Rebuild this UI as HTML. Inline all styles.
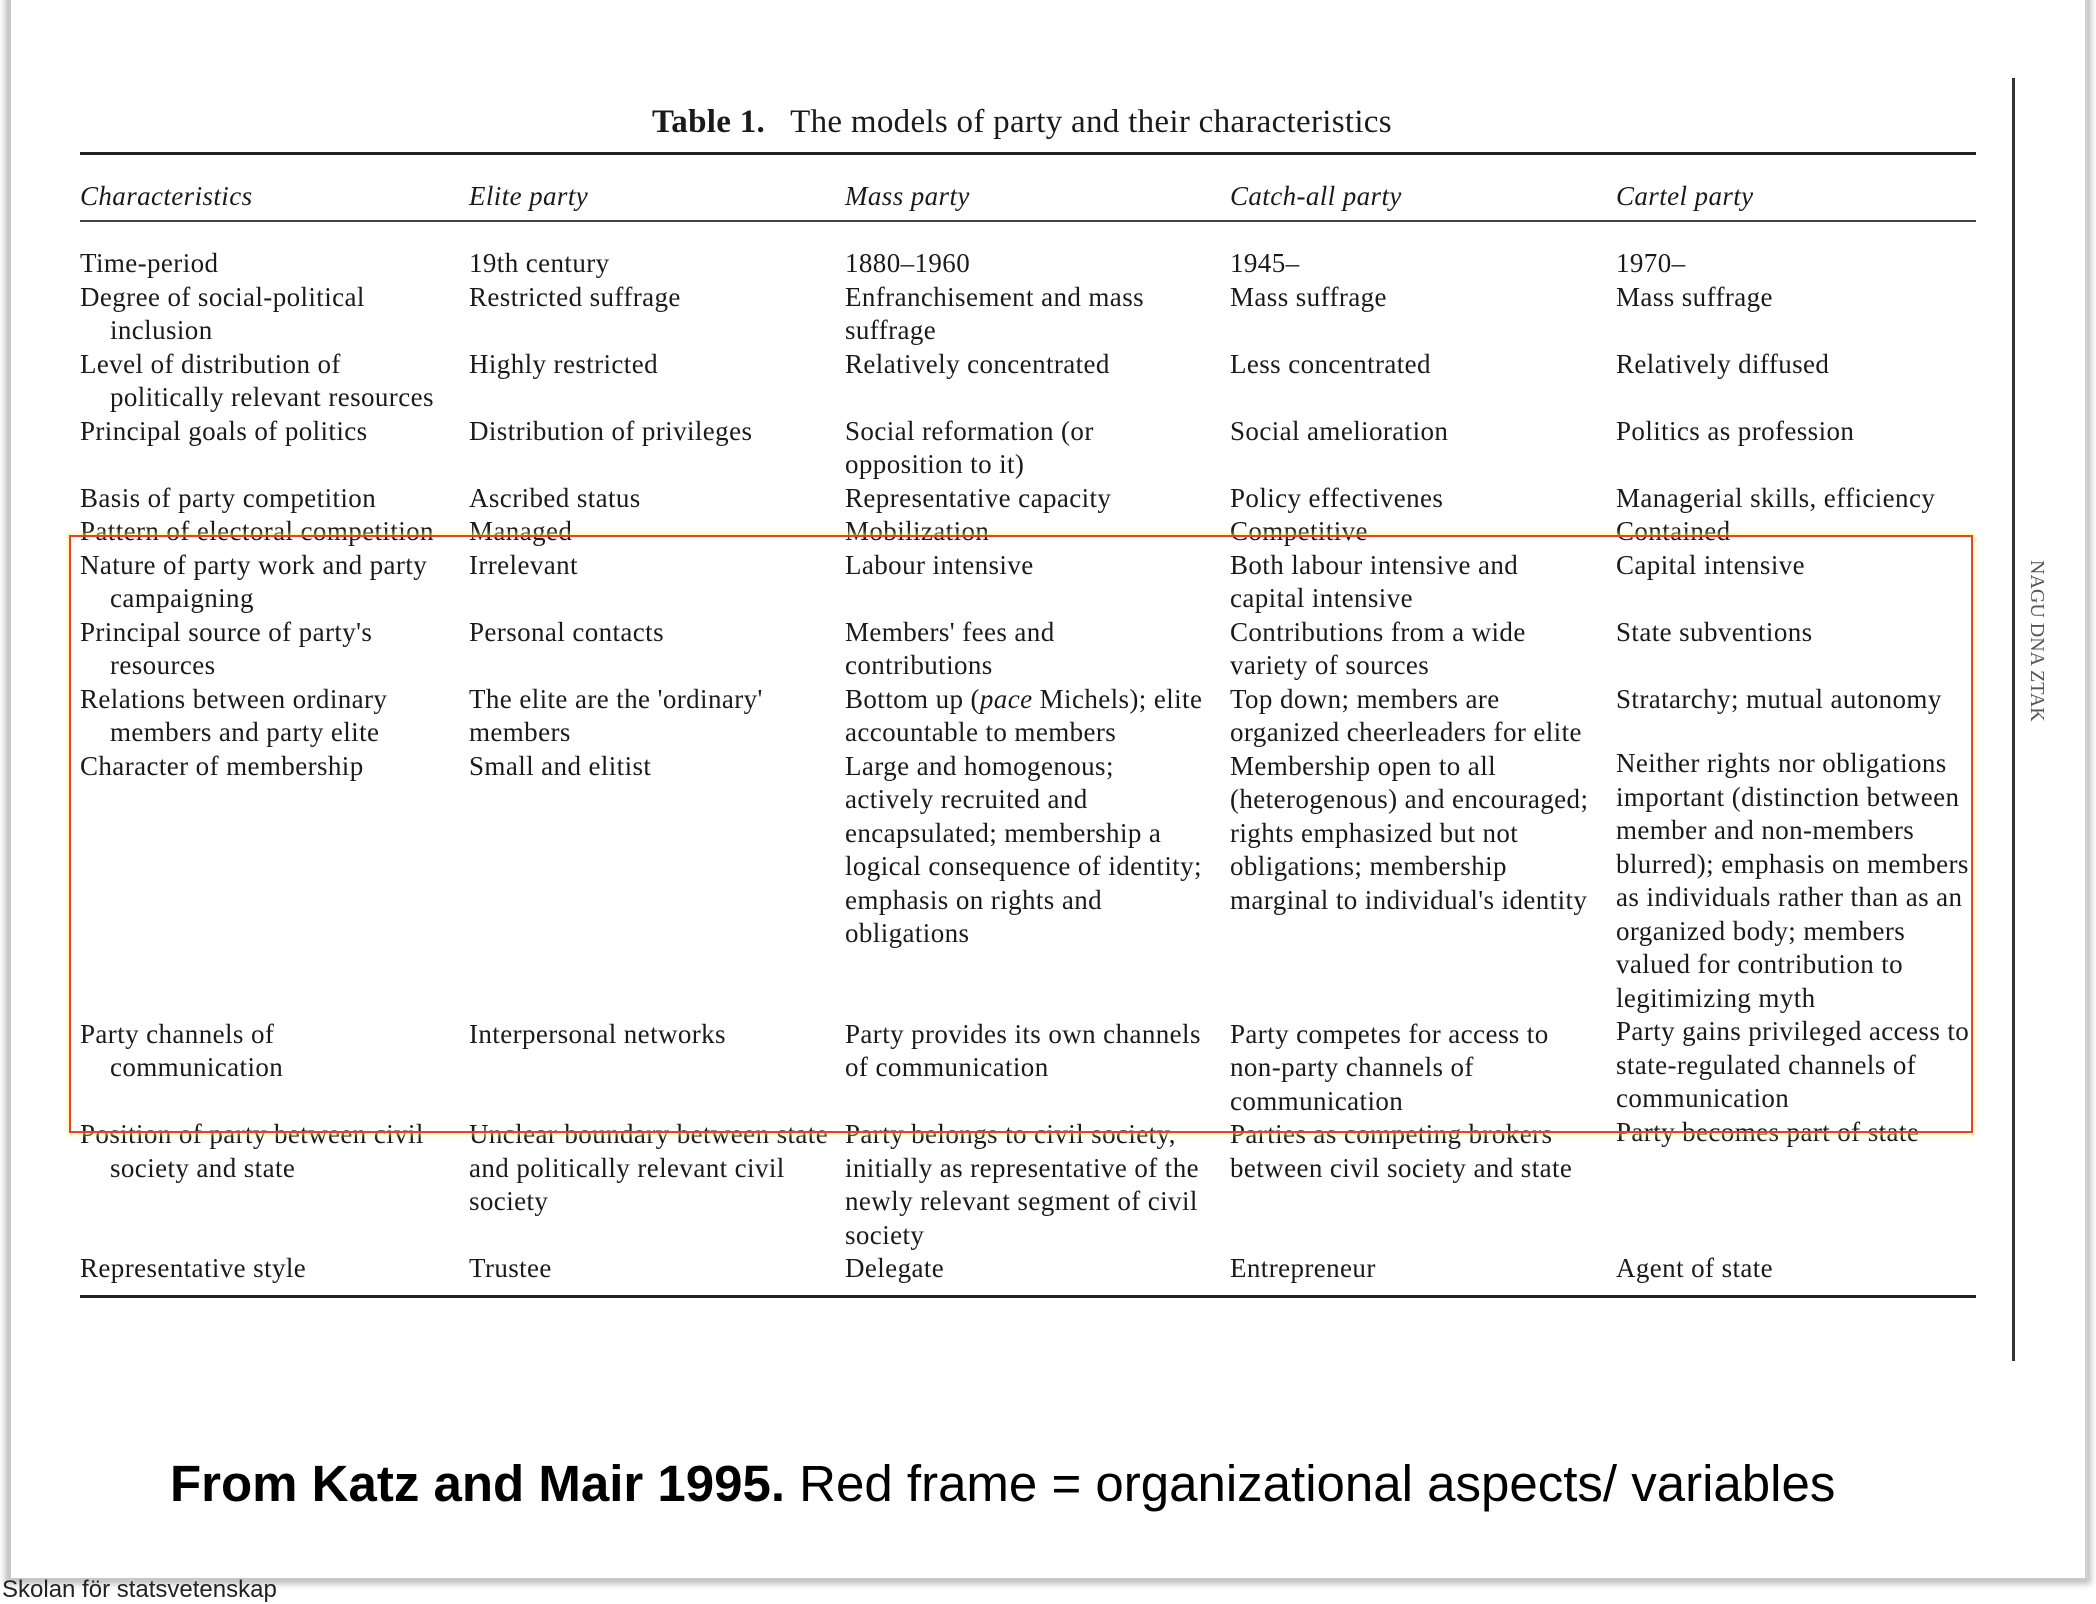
<!DOCTYPE html>
<html><head><meta charset="utf-8"><style>
html,body{margin:0;padding:0;}
body{width:2096px;height:1590px;position:relative;overflow:hidden;background:#fff;font-family:"Liberation Serif",serif;color:#1a1a1a;}
.card{position:absolute;left:8px;top:-10px;width:2074px;height:1588px;background:#fff;box-shadow:0 0 6px 3px #bdbdbd;border-left:3px solid #c8c8c8;border-right:3px solid #d0d0d0;border-bottom:3px solid #c8c8c8;}
.t{position:absolute;font-size:27px;letter-spacing:0.4px;line-height:33.5px;white-space:nowrap;}
.i{font-style:italic;}
.c0{left:80px}.c1{left:469px}.c2{left:845px}.c3{left:1230px}.c4{left:1616px}
.ind{padding-left:30px;text-indent:-30px;white-space:pre-line;}
.rule{position:absolute;left:80px;width:1896px;background:#222;}
.w{position:absolute;left:0;top:3px;width:2096px;height:1400px;}
</style></head><body>
<div class="card"></div>
<div style="position:absolute;left:652px;top:104px;font-size:33px;letter-spacing:0.3px;white-space:nowrap"><b>Table 1.</b>&nbsp;&nbsp; The models of party and their characteristics</div>
<div class="rule" style="top:152px;height:3px"></div>
<div class="rule" style="top:220px;height:2px;background:#444"></div>
<div class="rule" style="top:1295px;height:3px"></div>
<div style="position:absolute;left:2012px;top:78px;width:3px;height:1283px;background:#333"></div>
<div style="position:absolute;top:560px;font-size:20px;transform:rotate(90deg);transform-origin:left top;color:#555;white-space:nowrap;left:2048px">NAGU DNA ZTAK</div>
<div class="w">
<div class="t i c0" style="top:177px">Characteristics</div>
<div class="t i c1" style="top:177px">Elite party</div>
<div class="t i c2" style="top:177px">Mass party</div>
<div class="t i c3" style="top:177px">Catch-all party</div>
<div class="t i c4" style="top:177px">Cartel party</div>

<div class="t c0" style="top:244px">Time-period</div>
<div class="t c1" style="top:244px">19th century</div>
<div class="t c2" style="top:244px">1880–1960</div>
<div class="t c3" style="top:244px">1945–</div>
<div class="t c4" style="top:244px">1970–</div>

<div class="t c0 ind" style="top:277.5px">Degree of social-political
inclusion</div>
<div class="t c1" style="top:277.5px">Restricted suffrage</div>
<div class="t c2" style="top:277.5px">Enfranchisement and mass<br>suffrage</div>
<div class="t c3" style="top:277.5px">Mass suffrage</div>
<div class="t c4" style="top:277.5px">Mass suffrage</div>

<div class="t c0 ind" style="top:344.5px">Level of distribution of
politically relevant resources</div>
<div class="t c1" style="top:344.5px">Highly restricted</div>
<div class="t c2" style="top:344.5px">Relatively concentrated</div>
<div class="t c3" style="top:344.5px">Less concentrated</div>
<div class="t c4" style="top:344.5px">Relatively diffused</div>

<div class="t c0" style="top:411.5px">Principal goals of politics</div>
<div class="t c1" style="top:411.5px">Distribution of privileges</div>
<div class="t c2" style="top:411.5px">Social reformation (or<br>opposition to it)</div>
<div class="t c3" style="top:411.5px">Social amelioration</div>
<div class="t c4" style="top:411.5px">Politics as profession</div>

<div class="t c0" style="top:478.5px">Basis of party competition</div>
<div class="t c1" style="top:478.5px">Ascribed status</div>
<div class="t c2" style="top:478.5px">Representative capacity</div>
<div class="t c3" style="top:478.5px">Policy effectivenes</div>
<div class="t c4" style="top:478.5px">Managerial skills, efficiency</div>

<div class="t c0" style="top:512px">Pattern of electoral competition</div>
<div class="t c1" style="top:512px">Managed</div>
<div class="t c2" style="top:512px">Mobilization</div>
<div class="t c3" style="top:512px">Competitive</div>
<div class="t c4" style="top:512px">Contained</div>

<div class="t c0 ind" style="top:545.5px">Nature of party work and party
campaigning</div>
<div class="t c1" style="top:545.5px">Irrelevant</div>
<div class="t c2" style="top:545.5px">Labour intensive</div>
<div class="t c3" style="top:545.5px">Both labour intensive and<br>capital intensive</div>
<div class="t c4" style="top:545.5px">Capital intensive</div>

<div class="t c0 ind" style="top:612.5px">Principal source of party's
resources</div>
<div class="t c1" style="top:612.5px">Personal contacts</div>
<div class="t c2" style="top:612.5px">Members' fees and<br>contributions</div>
<div class="t c3" style="top:612.5px">Contributions from a wide<br>variety of sources</div>
<div class="t c4" style="top:612.5px">State subventions</div>

<div class="t c0 ind" style="top:679.5px">Relations between ordinary
members and party elite</div>
<div class="t c1" style="top:679.5px">The elite are the 'ordinary'<br>members</div>
<div class="t c2" style="top:679.5px">Bottom up (<i>pace</i> Michels); elite<br>accountable to members</div>
<div class="t c3" style="top:679.5px">Top down; members are<br>organized cheerleaders for elite</div>
<div class="t c4" style="top:679.5px">Stratarchy; mutual autonomy</div>

<div class="t c0" style="top:746.5px">Character of membership</div>
<div class="t c1" style="top:746.5px">Small and elitist</div>
<div class="t c2" style="top:746.5px">Large and homogenous;<br>actively recruited and<br>encapsulated; membership a<br>logical consequence of identity;<br>emphasis on rights and<br>obligations</div>
<div class="t c3" style="top:746.5px">Membership open to all<br>(heterogenous) and encouraged;<br>rights emphasized but not<br>obligations; membership<br>marginal to individual's identity</div>
<div class="t c4" style="top:744px">Neither rights nor obligations<br>important (distinction between<br>member and non-members<br>blurred); emphasis on members<br>as individuals rather than as an<br>organized body; members<br>valued for contribution to<br>legitimizing myth</div>

<div class="t c0 ind" style="top:1014.5px">Party channels of
communication</div>
<div class="t c1" style="top:1014.5px">Interpersonal networks</div>
<div class="t c2" style="top:1014.5px">Party provides its own channels<br>of communication</div>
<div class="t c3" style="top:1014.5px">Party competes for access to<br>non-party channels of<br>communication</div>
<div class="t c4" style="top:1012px">Party gains privileged access to<br>state-regulated channels of<br>communication</div>

<div class="t c0 ind" style="top:1115px">Position of party between civil
society and state</div>
<div class="t c1" style="top:1115px">Unclear boundary between state<br>and politically relevant civil<br>society</div>
<div class="t c2" style="top:1115px">Party belongs to civil society,<br>initially as representative of the<br>newly relevant segment of civil<br>society</div>
<div class="t c3" style="top:1115px">Parties as competing brokers<br>between civil society and state</div>
<div class="t c4" style="top:1113px">Party becomes part of state</div>

<div class="t c0" style="top:1249px">Representative style</div>
<div class="t c1" style="top:1249px">Trustee</div>
<div class="t c2" style="top:1249px">Delegate</div>
<div class="t c3" style="top:1249px">Entrepreneur</div>
<div class="t c4" style="top:1249px">Agent of state</div>
</div>

<div style="position:absolute;left:69px;top:535px;width:1900px;height:594px;border:2px solid #e8402a;box-shadow:0 0 4px 2px rgba(255,240,120,0.6);"></div>

<div style="position:absolute;left:170px;top:1454px;font-family:'Liberation Sans',sans-serif;font-size:51px;color:#000;white-space:nowrap"><b>From Katz and Mair 1995.</b> Red frame = organizational aspects/ variables</div>
<div style="position:absolute;left:2px;top:1576px;font-family:'Liberation Sans',sans-serif;font-size:24px;color:#222;white-space:nowrap">Skolan för statsvetenskap</div>
</body></html>
